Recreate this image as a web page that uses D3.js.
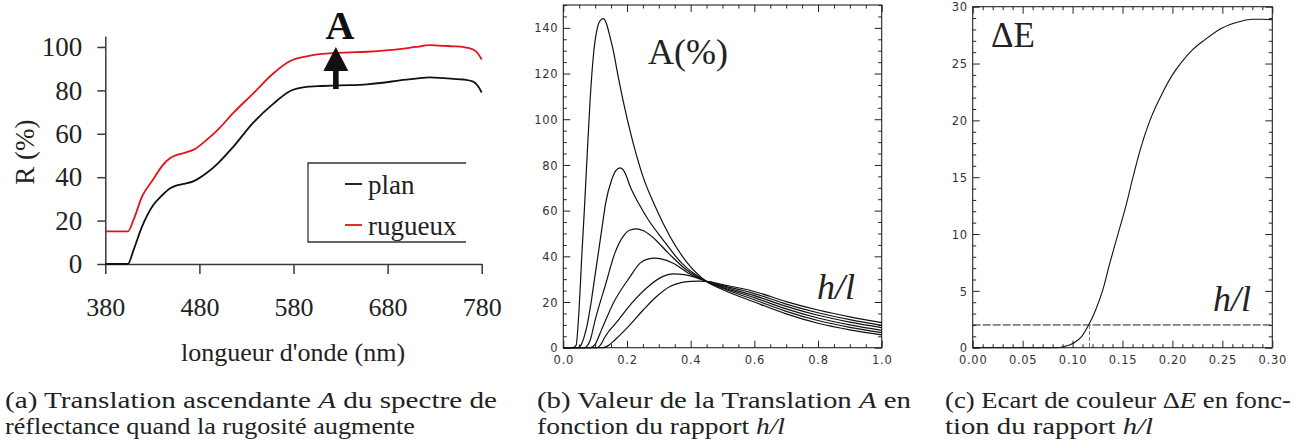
<!DOCTYPE html>
<html><head><meta charset="utf-8">
<script src="https://cdn.jsdelivr.net/npm/d3@7"></script>
<style>body{margin:0;background:#fff} svg{display:block}</style>
</head><body><svg id="c" width="1299" height="445"></svg>
<script>
// ---------- Panel (a) data ----------
const wavelengths = [380,395,404,410,419,431,440,449,456,465,474,488,500,516,537,559,576,594,610,622,640,658,675,693,710,725,740,750,760,771,776,780];
const planR =      [0,0,0,6.4,17.2,27.2,31.5,34.9,36.2,37,38.2,42,46.5,54,65,74,79.6,81.6,82,82.2,82.4,82.8,83.5,84.6,85.4,86,85.6,85.3,85,84,82,79];
const rugueuxR =   [15,15,15,20.3,31,39,45,48.8,50.3,51.3,52.7,57.3,62,69.6,78.5,88,93.4,95.7,96.8,97.2,97.5,97.8,98.3,99,100,100.8,100.5,100.3,100,98.8,97,94.2];
const aXTicks = [380,480,580,680,780];
const aYTicks = [0,20,40,60,80,100];
const aSeries = ["plan","rugueux"];
const arrowA = {nm:625, from:80.6, to:100};

// ---------- Panel (b) data : A(%) vs h/l, six curves ----------
const tailX = [0.5,0.6,0.7,0.8,0.9,1.0];
const bCurve1 = [[0,0],[0.03,0],[0.04,1],[0.05,18],[0.058,40],[0.066,60],[0.073,79],[0.084,108],[0.096,130],[0.107,140],[0.118,143.5],[0.126,144],[0.135,142],[0.145,137],[0.157,130],[0.172,119],[0.188,108],[0.213,93],[0.25,75],[0.288,62],[0.335,48.7],[0.3875,37.5],[0.45,29]];
const bCurve2 = [[0,0],[0.045,0],[0.055,1],[0.065,4.5],[0.075,10],[0.087,19.5],[0.1,32],[0.11,41.4],[0.122,53],[0.133,63.3],[0.152,73.5],[0.165,77.5],[0.178,78.7],[0.192,77],[0.21,70.6],[0.236,63.3],[0.267,56],[0.309,48],[0.372,37],[0.45,29]];
const bCurve3 = [[0,0],[0.065,0],[0.075,0.8],[0.085,3.5],[0.1,12.1],[0.115,19.5],[0.131,26.8],[0.162,41.4],[0.188,48.7],[0.21,51.5],[0.23,52],[0.25,51.3],[0.278,48.7],[0.33,41.4],[0.3875,34],[0.45,29]];
const bCurve4 = [[0,0],[0.085,0],[0.1,1.5],[0.12,7.8],[0.157,19.5],[0.21,31.1],[0.241,37],[0.265,38.8],[0.288,39.2],[0.31,38.8],[0.345,37],[0.393,32.6],[0.45,29]];
const bCurve5 = [[0,0],[0.105,0],[0.118,1.5],[0.131,4.8],[0.173,12.1],[0.215,19.5],[0.267,26.8],[0.31,31],[0.345,32.3],[0.38,32],[0.41,31],[0.45,29]];
const bCurve6 = [[0,0],[0.125,0],[0.14,0.8],[0.162,3.4],[0.204,9.2],[0.251,16.5],[0.293,22.4],[0.335,26.8],[0.37,28.5],[0.40,29],[0.425,29.1],[0.45,29]];
const bTail1 = [25.5,20.0,14.8,10.7,7.8,5.6];
const bTail2 = [26.0,21.0,15.9,11.9,8.9,6.6];
const bTail3 = [26.4,21.9,17.0,13.0,10.0,7.6];
const bTail4 = [26.8,22.8,18.1,14.2,11.2,8.8];
const bTail5 = [27.2,23.7,19.1,15.3,12.3,9.8];
const bTail6 = [27.6,24.6,20.2,16.5,13.5,11.0];
const bXTicks = [0,0.2,0.4,0.6,0.8,1.0];
const bYTicks = [0,20,40,60,80,100,120,140];

// ---------- Panel (c) data : ΔE vs h/l ----------
const cX = [0,0.05,0.085,0.0907,0.1007,0.109,0.1158,0.123,0.130,0.1375,0.1455,0.1535,0.1605,0.168,0.1775,0.1905,0.2,0.209,0.22,0.2326,0.2493,0.2676,0.28,0.29,0.30];
const cY = [0,0,0,0.09,0.39,0.97,1.95,3.3,5.0,7.5,10,12.5,15,17.5,20,22.5,24,25.1,26.2,27.1,28.1,28.7,28.9,28.9,28.85];
const cThreshold = 2;
const cThresholdX = 0.117;
const cXTicks = [0,0.05,0.10,0.15,0.20,0.25,0.30];
const cYTicks = [0,5,10,15,20,25,30];

const SERIF = "Liberation Serif";
const SANS = "DejaVu Sans";
const svg = d3.select("#c");
svg.append("rect").attr("width",1299).attr("height",445).attr("fill","#fff");
const txt = (sel, fam, size) => sel.style("font-family", fam).style("font-size", size+"px");

// ================= Panel (a) =================
const xA = d3.scaleLinear([380,780],[105.3,481.7]);
const yA = d3.scaleLinear([0,105],[264,36.1]);
const gA = svg.append("g");
const axL = gA.append("g").attr("transform",`translate(${xA(380)},0)`)
  .call(d3.axisLeft(yA).tickValues(aYTicks).tickSize(8).tickSizeOuter(0).tickPadding(15));
const axB = gA.append("g").attr("transform",`translate(0,${yA(0)})`)
  .call(d3.axisBottom(xA).tickValues(aXTicks).tickSize(10).tickSizeOuter(0).tickPadding(24));
[axL,axB].forEach(a=>{
  a.selectAll("path,line").attr("stroke","#3a3a3a").attr("stroke-width",1.5);
  txt(a.selectAll("text"), SERIF, 27).attr("fill","#222");
});
txt(axB.selectAll("text"), SERIF, 26);

const lineA = d3.line().x((d,i)=>xA(wavelengths[i])).y(d=>yA(d)).curve(d3.curveMonotoneX);
gA.append("path").attr("d",lineA(planR)).attr("fill","none").attr("stroke","#111").attr("stroke-width",1.8);
gA.append("path").attr("d",lineA(rugueuxR)).attr("fill","none").attr("stroke","#e3131b").attr("stroke-width",1.8);

txt(gA.append("text"), SERIF, 27).attr("transform",`translate(34,${(yA(0)+yA(105))/2+2}) rotate(-90)`)
  .attr("text-anchor","middle").attr("fill","#222").text("R (%)");
txt(gA.append("text"), SERIF, 26).attr("x",293).attr("y",361).attr("text-anchor","middle")
  .attr("fill","#222").text("longueur d'onde (nm)");

// legend
const lg = gA.append("g");
lg.append("path").attr("d","M466,163H308V242H466").attr("fill","none").attr("stroke","#333").attr("stroke-width",1.3);
const legColors = ["#111","#e3131b"];
aSeries.forEach((s,i)=>{
  const y = 184 + i*41;
  lg.append("line").attr("x1",345).attr("x2",362).attr("y1",y).attr("y2",y).attr("stroke",legColors[i]).attr("stroke-width",1.8);
  txt(lg.append("text"), SERIF, 27).attr("x",368).attr("y",y+10).attr("fill","#222").text(s);
});

// arrow A
const ax = xA(arrowA.nm), yb = yA(arrowA.from), yt = yA(arrowA.to);
gA.append("rect").attr("x",ax-2.8).attr("y",yt+24).attr("width",5.6).attr("height",yb-yt-24).attr("fill","#111");
gA.append("path").attr("d",`M${ax},${yt}L${ax+12.5},${yt+24}L${ax-12.5},${yt+24}Z`).attr("fill","#111");
txt(gA.append("text"), SERIF, 40).attr("x",ax+4).attr("y",38.5).attr("text-anchor","middle")
  .style("font-weight","bold").attr("fill","#111").text("A");

// ================= helper for framed panels =================
function framed(g, x, y, xMaj, xMin, yMaj, yMin, xFmt, yFmt){
  const [x0,x1] = x.range(), [y0,y1] = y.range();
  const mk = (gen, tr, vals, size, fmt) => {
    const a = g.append("g").attr("transform",tr)
      .call(gen.tickValues(vals).tickSizeInner(size).tickSizeOuter(0).tickFormat(fmt||""));
    a.select(".domain").remove();
    a.selectAll("line").attr("stroke","#222").attr("stroke-width",1);
    return a;
  };
  mk(d3.axisBottom(x), `translate(0,${y0})`, xMin, -3.5);
  mk(d3.axisTop(x), `translate(0,${y1})`, xMin, -3.5);
  mk(d3.axisLeft(y), `translate(${x0},0)`, yMin, -3.5);
  mk(d3.axisRight(y), `translate(${x1},0)`, yMin, -3.5);
  const b = mk(d3.axisBottom(x), `translate(0,${y0})`, xMaj, -7, xFmt);
  mk(d3.axisTop(x), `translate(0,${y1})`, xMaj, -7);
  const l = mk(d3.axisLeft(y), `translate(${x0},0)`, yMaj, -7, yFmt);
  mk(d3.axisRight(y), `translate(${x1},0)`, yMaj, -7);
  b.selectAll("text").attr("y",16.5).attr("dy",0);
  l.selectAll("text").attr("x",-5).attr("dy","0.36em");
  [b,l].forEach(a=>txt(a.selectAll("text"), SANS, 11.5).style("letter-spacing","0.7px").attr("fill","#333"));
  g.append("rect").attr("x",x0).attr("y",y1).attr("width",x1-x0).attr("height",y0-y1)
    .attr("fill","none").attr("stroke","#222").attr("stroke-width",1.1);
}
const range = (a,b,s)=>d3.range(Math.round(a/s),Math.round(b/s)+1).map(k=>+(k*s).toFixed(4));

// ================= Panel (b) =================
const xB = d3.scaleLinear([0,1],[563.3,881.7]);
const yB = d3.scaleLinear([0,150],[347.7,5]);
const gB = svg.append("g");
framed(gB, xB, yB, bXTicks, range(0,1,0.05).filter(v=>!bXTicks.includes(v)),
       bYTicks, range(0,150,5).filter(v=>v%20!==0), d3.format(".1f"), d3.format("d"));
const lineB = d3.line().x(d=>xB(d[0])).y(d=>yB(d[1])).curve(d3.curveMonotoneX);
const bCurves = [[bCurve1,bTail1],[bCurve2,bTail2],[bCurve3,bTail3],[bCurve4,bTail4],[bCurve5,bTail5],[bCurve6,bTail6]];
bCurves.forEach(([c,t])=>{
  const pts = c.concat(tailX.map((x,i)=>[x,t[i]]));
  gB.append("path").attr("d",lineB(pts)).attr("fill","none").attr("stroke","#111").attr("stroke-width",1.2);
});
txt(gB.append("text"), SERIF, 36).attr("x",648).attr("y",64).attr("fill","#222").text("A(%)");
txt(gB.append("text"), SERIF, 36).attr("x",817).attr("y",299).style("font-style","italic").attr("fill","#222").text("h/l");

// ================= Panel (c) =================
const xC = d3.scaleLinear([0,0.3],[972.7,1272.3]);
const yC = d3.scaleLinear([0,30],[347.7,6.7]);
const gC = svg.append("g");
framed(gC, xC, yC, cXTicks, range(0,0.3,0.01).filter(v=>Math.round(v*100)%5!==0),
       cYTicks, range(0,30,1).filter(v=>v%5!==0), d3.format(".2f"), d3.format("d"));
gC.append("line").attr("x1",xC(0)).attr("x2",xC(0.3)).attr("y1",yC(cThreshold)).attr("y2",yC(cThreshold))
  .attr("stroke","#222").attr("stroke-width",1).attr("stroke-dasharray","8,2");
gC.append("line").attr("x1",xC(cThresholdX)).attr("x2",xC(cThresholdX)).attr("y1",yC(cThreshold)).attr("y2",yC(0))
  .attr("stroke","#777").attr("stroke-width",1).attr("stroke-dasharray","4,2");
const lineC = d3.line().x((d,i)=>xC(cX[i])).y(d=>yC(d)).curve(d3.curveMonotoneX);
gC.append("path").attr("d",lineC(cY)).attr("fill","none").attr("stroke","#111").attr("stroke-width",1.1);
txt(gC.append("text"), SERIF, 35).attr("x",991).attr("y",47).attr("fill","#222").text("ΔE");
txt(gC.append("text"), SERIF, 36).attr("x",1213).attr("y",311).style("font-style","italic").attr("fill","#222").text("h/l");

// ================= Captions =================
const captions = [
  {x:5, y:408, w:492, parts:[["(a) Translation ascendante ",0],["A",1],[" du spectre de",0]]},
  {x:5, y:434, w:410, parts:[["réflectance quand la rugosité augmente",0]]},
  {x:537, y:408, w:374, parts:[["(b) Valeur de la Translation ",0],["A",1],[" en",0]]},
  {x:537, y:434, w:248, parts:[["fonction du rapport ",0],["h/l",1]]},
  {x:945, y:408, w:346, parts:[["(c) Ecart de couleur Δ",0],["E",1],[" en fonc-",0]]},
  {x:945, y:434, w:208, parts:[["tion du rapport ",0],["h/l",1]]}
];
captions.forEach(c=>{
  const t = txt(svg.append("text"), SERIF, 23).attr("x",c.x).attr("y",c.y)
    .attr("fill","#222").attr("textLength",c.w).attr("lengthAdjust","spacingAndGlyphs");
  c.parts.forEach(([s,it])=>t.append("tspan").style("font-style",it?"italic":null).text(s));
});
</script></body></html>
